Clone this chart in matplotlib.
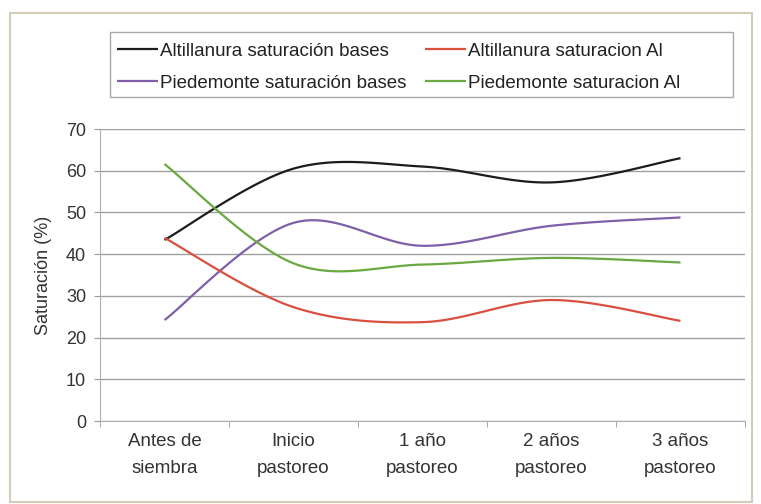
import numpy as np
import matplotlib.pyplot as plt
from matplotlib.patches import Rectangle

plt.rcParams['font.family'] = ['Liberation Sans', 'DejaVu Sans']

# data
categories = ['Antes de\nsiembra', 'Inicio\npastoreo', '1 año\npastoreo',
              '2 años\npastoreo', '3 años\npastoreo']
alti_bases = [43.4, 60.5, 61.0, 57.2, 63.0]
alti_al = [43.9, 27.3, 23.7, 29.0, 24.0]
pied_bases = [24.2, 47.5, 42.0, 46.8, 48.8]
pied_al = [61.6, 37.8, 37.5, 39.1, 38.0]

series = [
    ('Altillanura saturación bases', alti_bases, '#1c1c1c'),
    ('Piedemonte saturación bases', pied_bases, '#7e5fa8'),
    ('Altillanura saturacion Al', alti_al, '#d9503f'),
    ('Piedemonte saturacion Al', pied_al, '#6aa842'),
]


def smooth(xs, ys, n=30):
    # Excel style smoothed line: cubic bezier with catmull-rom control points
    xs = np.asarray(xs, float)
    ys = np.asarray(ys, float)
    px = np.concatenate([[xs[0]], xs, [xs[-1]]])
    py = np.concatenate([[ys[0]], ys, [ys[-1]]])
    t = np.linspace(0, 1, n)
    outx, outy = [], []
    for i in range(1, len(px) - 2):
        p0x, p1x, p2x, p3x = px[i - 1:i + 3]
        p0y, p1y, p2y, p3y = py[i - 1:i + 3]
        c1x, c1y = p1x + (p2x - p0x) / 6, p1y + (p2y - p0y) / 6
        c2x, c2y = p2x - (p3x - p1x) / 6, p2y - (p3y - p1y) / 6
        bx = (1 - t)**3 * p1x + 3 * (1 - t)**2 * t * c1x + 3 * (1 - t) * t**2 * c2x + t**3 * p2x
        by = (1 - t)**3 * p1y + 3 * (1 - t)**2 * t * c1y + 3 * (1 - t) * t**2 * c2y + t**3 * p2y
        outx.extend(bx)
        outy.extend(by)
    return np.array(outx), np.array(outy)


W, H = 761, 504
fig = plt.figure(figsize=(W / 100, H / 100), dpi=100)
# outer chart frame
fig.patches.append(Rectangle((10 / W, 2 / H), 742 / W, 489 / H,
                             transform=fig.transFigure, fill=False,
                             edgecolor='#d3ccb8', lw=1.5))
# legend box
fig.patches.append(Rectangle((110 / W, 1 - 97 / H), 623 / W, 65 / H,
                             transform=fig.transFigure, fill=False,
                             edgecolor='#a8a8a8', lw=1))

ax = fig.add_axes([100 / W, 1 - 421 / H, 645 / W, 292 / H])
x = np.arange(len(categories))
for name, vals, col in series:
    sx, sy = smooth(x, vals)
    ax.plot(sx, sy, color=col, lw=1.6, label=name, solid_capstyle='butt')

ax.set_xlim(-0.5, len(categories) - 0.5)
ax.set_ylim(0, 70)
ax.set_yticks(range(0, 71, 10))
ax.set_xticks(x)
ax.set_xticklabels(categories, fontsize=13.5, color='#333333', linespacing=1.7)
ax.set_xticks(np.arange(-0.5, len(categories), 1), minor=True)
ax.tick_params(axis='x', which='major', length=0, pad=9)
ax.tick_params(axis='x', which='minor', length=4, color='#999999')
ax.tick_params(axis='y', length=4, color='#999999', labelsize=13,
               labelcolor='#333333', pad=6)
ax.yaxis.grid(True, color='#a0a0a0', lw=1)
ax.set_axisbelow(True)
for s in ['top', 'right']:
    ax.spines[s].set_visible(False)
ax.spines['left'].set_color('#b0b0b0')
ax.spines['bottom'].set_color('#b0b0b0')
ax.set_ylabel('Saturación (%)', fontsize=13, color='#333333', labelpad=10)

fig.legend(loc='upper left', bbox_to_anchor=(100 / W, 1 - 26 / H), ncol=2,
           fontsize=13.5, frameon=False,
           handlelength=2.2, handletextpad=0.1, columnspacing=1.0,
           labelspacing=0.78, borderpad=0.4, labelcolor='#222222')

fig.savefig('out.png', dpi=100)
